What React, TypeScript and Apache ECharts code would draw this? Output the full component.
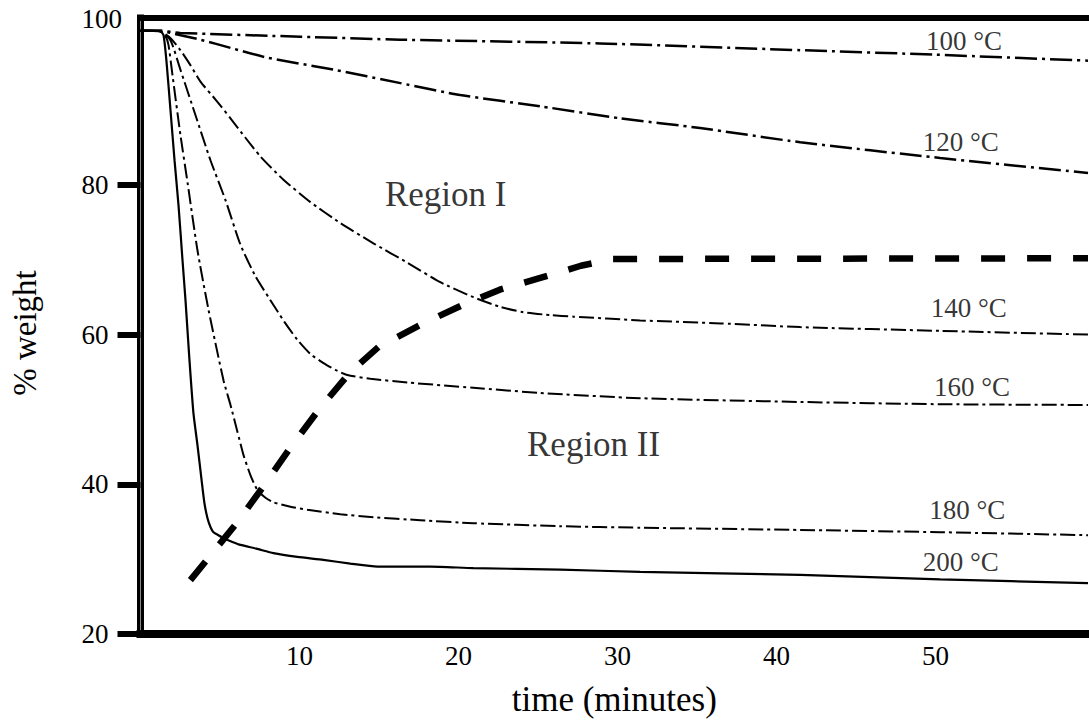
import React, { useEffect, useRef } from 'react';
import * as echarts from 'echarts';

// ---- data (time in minutes, % weight) ----
const t100 = [0, 1.26, 2.5, 10.06, 16.35, 28.9, 41.5, 50.0, 59.6];
const w100 = [100.6, 100.6, 100.3, 99.8, 99.4, 98.9, 98.0, 97.4, 96.6];

const t120 = [0, 1.26, 1.7, 3.77, 5.85, 7.98, 12.13, 16.35, 20.12, 25.15, 30.18, 35.2, 41.5, 50.3, 59.6];
const w120 = [100.6, 100.6, 100.4, 99.4, 98.2, 97.0, 95.4, 93.6, 92.0, 90.5, 88.9, 87.6, 85.7, 83.6, 81.6];

const t140 = [0, 1.26, 1.89, 2.51, 3.14, 3.77, 4.72, 5.66, 6.6, 7.54, 8.99, 10.69, 12.57, 14.65, 16.79, 18.86, 20.94, 22.63, 24.08, 25.78, 27.22, 31.43, 36.5, 41.5, 50.3, 59.6];
const w140 = [100.6, 100.5, 99.6, 98.0, 96.0, 93.8, 91.4, 88.9, 86.3, 83.8, 80.7, 77.7, 74.9, 72.2, 69.6, 67.0, 65.0, 63.7, 63.0, 62.6, 62.4, 61.9, 61.5, 61.0, 60.5, 60.0];

const t160 = [0, 1.26, 1.89, 2.51, 3.46, 4.4, 5.34, 6.29, 7.23, 8.17, 9.05, 9.87, 10.69, 11.51, 12.26, 13.01, 14.46, 16.79, 20.94, 25.15, 31.43, 41.5, 50.3, 59.6];
const w160 = [100.6, 100.5, 99.3, 95.4, 89.3, 83.3, 78.0, 72.0, 67.8, 64.6, 61.7, 59.3, 57.4, 56.2, 55.3, 54.6, 54.1, 53.6, 52.9, 52.2, 51.5, 51.0, 50.7, 50.6];

const t180 = [0, 1.26, 1.57, 1.76, 2.01, 2.51, 2.96, 3.58, 4.28, 5.22, 5.66, 6.1, 6.48, 6.92, 7.36, 7.86, 8.36, 9.43, 10.5, 12.57, 14.65, 17.6, 20.94, 26.4, 31.43, 41.5, 50.3, 59.6];
const w180 = [100.6, 100.5, 99.9, 98.7, 94.7, 86.7, 80.3, 71.3, 63.3, 53.9, 50.6, 47.0, 43.9, 41.2, 39.2, 38.2, 37.6, 37.0, 36.6, 36.0, 35.6, 35.2, 34.8, 34.4, 34.2, 33.9, 33.6, 33.2];

const t200 = [0, 1.26, 1.45, 1.63, 1.89, 2.14, 2.39, 2.64, 2.83, 3.08, 3.33, 3.58, 3.84, 4.02, 4.21, 4.4, 4.59, 4.9, 5.22, 5.78, 6.29, 7.29, 8.36, 9.87, 11.5, 13.2, 14.9, 18.23, 20.94, 26.4, 31.43, 41.5, 50.3, 59.6];
const w200 = [100.6, 100.5, 100.0, 96.6, 89.9, 83.3, 77.3, 70.0, 64.6, 56.6, 49.5, 45.3, 40.6, 37.5, 35.5, 34.3, 33.6, 33.2, 32.8, 32.3, 31.9, 31.4, 30.8, 30.3, 29.9, 29.4, 29.0, 29.0, 28.8, 28.6, 28.3, 27.9, 27.3, 26.8];

// region boundary (heavy dashed line)
const tBound = [3.14, 5.97, 7.55, 9.43, 11.3, 13.2, 15.0, 17.6, 20.4, 22.6, 25.2, 27.7, 29.7, 59.6];
const wBound = [27.2, 34.6, 39.2, 44.9, 50.2, 55.0, 58.4, 61.3, 64.1, 66.0, 67.6, 69.2, 70.1, 70.2];

const tempLabels = ['100 °C', '120 °C', '140 °C', '160 °C', '180 °C', '200 °C'];
const tempLabelT = [51.8, 51.6, 52.1, 52.3, 52.0, 51.6];
const tempLabelW = [99.2, 85.7, 63.6, 53.0, 36.6, 29.6];

const regionLabels = ['Region I', 'Region II'];
const regionT = [19.2, 28.5];
const regionW = [78.7, 45.3];

const xTicks = [10, 20, 30, 40, 50];
const yTicks = [20, 40, 60, 80, 100];
const yTickMarks = [20, 40, 60, 80];

const FONT = "'Liberation Serif', 'Times New Roman', serif";

const zip = (t: number[], w: number[]) => t.map((v, i) => [v, w[i]]);

export default function App() {
  const ref = useRef<HTMLDivElement>(null);
  useEffect(() => {
    if (!ref.current) return;
    const chart = echarts.init(ref.current, undefined, { renderer: 'svg' });

    const curve = (name: string, t: number[], w: number[], width: number, type: any) => ({
      name,
      type: 'line',
      data: zip(t, w),
      showSymbol: false,
      symbol: 'none',
      smooth: 0.2,
      silent: true,
      lineStyle: { color: '#000', width, type },
      z: 3,
    });

    chart.setOption({
      animation: false,
      backgroundColor: '#fff',
      grid: { left: 140, top: 18, right: 1, bottom: 90, containLabel: false },
      xAxis: [
        {
          type: 'value',
          min: 0,
          max: 59.6,
          position: 'bottom',
          name: 'time (minutes)',
          nameLocation: 'middle',
          nameGap: 65,
          nameTextStyle: { fontFamily: FONT, fontSize: 35, color: '#000', verticalAlign: 'middle' },
          axisLine: { show: true, lineStyle: { color: '#000', width: 8, cap: 'square' } },
          axisTick: { show: true, inside: true, length: 4, customValues: xTicks, lineStyle: { color: '#000', width: 1.5 } },
          axisLabel: { customValues: xTicks, margin: 8, fontFamily: FONT, fontSize: 27, color: '#000' },
          splitLine: { show: false },
        },
        {
          type: 'value',
          min: 0,
          max: 59.6,
          position: 'top',
          axisLine: { show: true, lineStyle: { color: '#000', width: 6, cap: 'square' } },
          axisTick: { show: false },
          axisLabel: { show: false },
          splitLine: { show: false },
        },
      ],
      yAxis: [
        {
          type: 'value',
          min: 20,
          max: 102.3,
          position: 'left',
          name: '% weight',
          nameLocation: 'middle',
          nameRotate: 90,
          nameGap: 116,
          nameTextStyle: { fontFamily: FONT, fontSize: 33, color: '#000', verticalAlign: 'middle', padding: [0, 14, 0, 0] },
          axisLine: { show: true, lineStyle: { color: '#000', width: 7, cap: 'square' } },
          axisTick: { show: true, inside: false, length: 23, customValues: yTickMarks, lineStyle: { color: '#000', width: 6 } },
          axisLabel: {
            customValues: yTicks,
            margin: 59,
            align: 'left',
            fontFamily: FONT,
            fontSize: 27,
            color: '#000',
            formatter: (v: number) => (v === 100 ? '{up|100}' : String(v)),
            rich: { up: { fontFamily: FONT, fontSize: 27, color: '#000', padding: [0, 0, 32, 0] } },
          },
          splitLine: { show: false },
        },
        {
          type: 'value',
          min: 20,
          max: 102.3,
          position: 'right',
          axisLine: { show: true, lineStyle: { color: '#888', width: 1 } },
          axisTick: { show: false },
          axisLabel: { show: false },
          splitLine: { show: false },
        },
      ],
      series: [
        curve('100 °C', t100, w100, 2.5, [22, 5, 3, 5]),
        curve('120 °C', t120, w120, 2.5, [22, 5, 3, 5]),
        curve('140 °C', t140, w140, 2, [15, 4, 3, 4]),
        curve('160 °C', t160, w160, 2, [15, 4, 3, 4]),
        curve('180 °C', t180, w180, 2, [15, 4, 3, 4]),
        curve('200 °C', t200, w200, 2.2, 'solid'),
        {
          name: 'boundary',
          type: 'line',
          data: zip(tBound, wBound),
          showSymbol: false,
          symbol: 'none',
          smooth: false,
          silent: true,
          lineStyle: { color: '#000', width: 6.5, type: [24, 22], cap: 'butt' },
          z: 4,
        },
        {
          name: 'temperature labels',
          type: 'scatter',
          symbolSize: 0.01,
          silent: true,
          itemStyle: { color: 'rgba(0,0,0,0)' },
          data: tempLabels.map((n, i) => ({ name: n, value: [tempLabelT[i], tempLabelW[i]] })),
          label: {
            show: true,
            position: 'inside',
            formatter: (p: any) => p.name,
            fontFamily: FONT,
            fontSize: 27,
            color: '#000',
          },
          z: 5,
        },
        {
          name: 'region labels',
          type: 'scatter',
          symbolSize: 0.01,
          silent: true,
          itemStyle: { color: 'rgba(0,0,0,0)' },
          data: regionLabels.map((n, i) => ({ name: n, value: [regionT[i], regionW[i]] })),
          label: {
            show: true,
            position: 'inside',
            formatter: (p: any) => p.name,
            fontFamily: FONT,
            fontSize: 35,
            color: '#000',
          },
          z: 5,
        },
      ],
    });
    return () => chart.dispose();
  }, []);

  return (
    <div
      ref={ref}
      style={{ position: 'fixed', left: 0, top: 0, width: 1089, height: 724, background: '#fff' }}
    />
  );
}
